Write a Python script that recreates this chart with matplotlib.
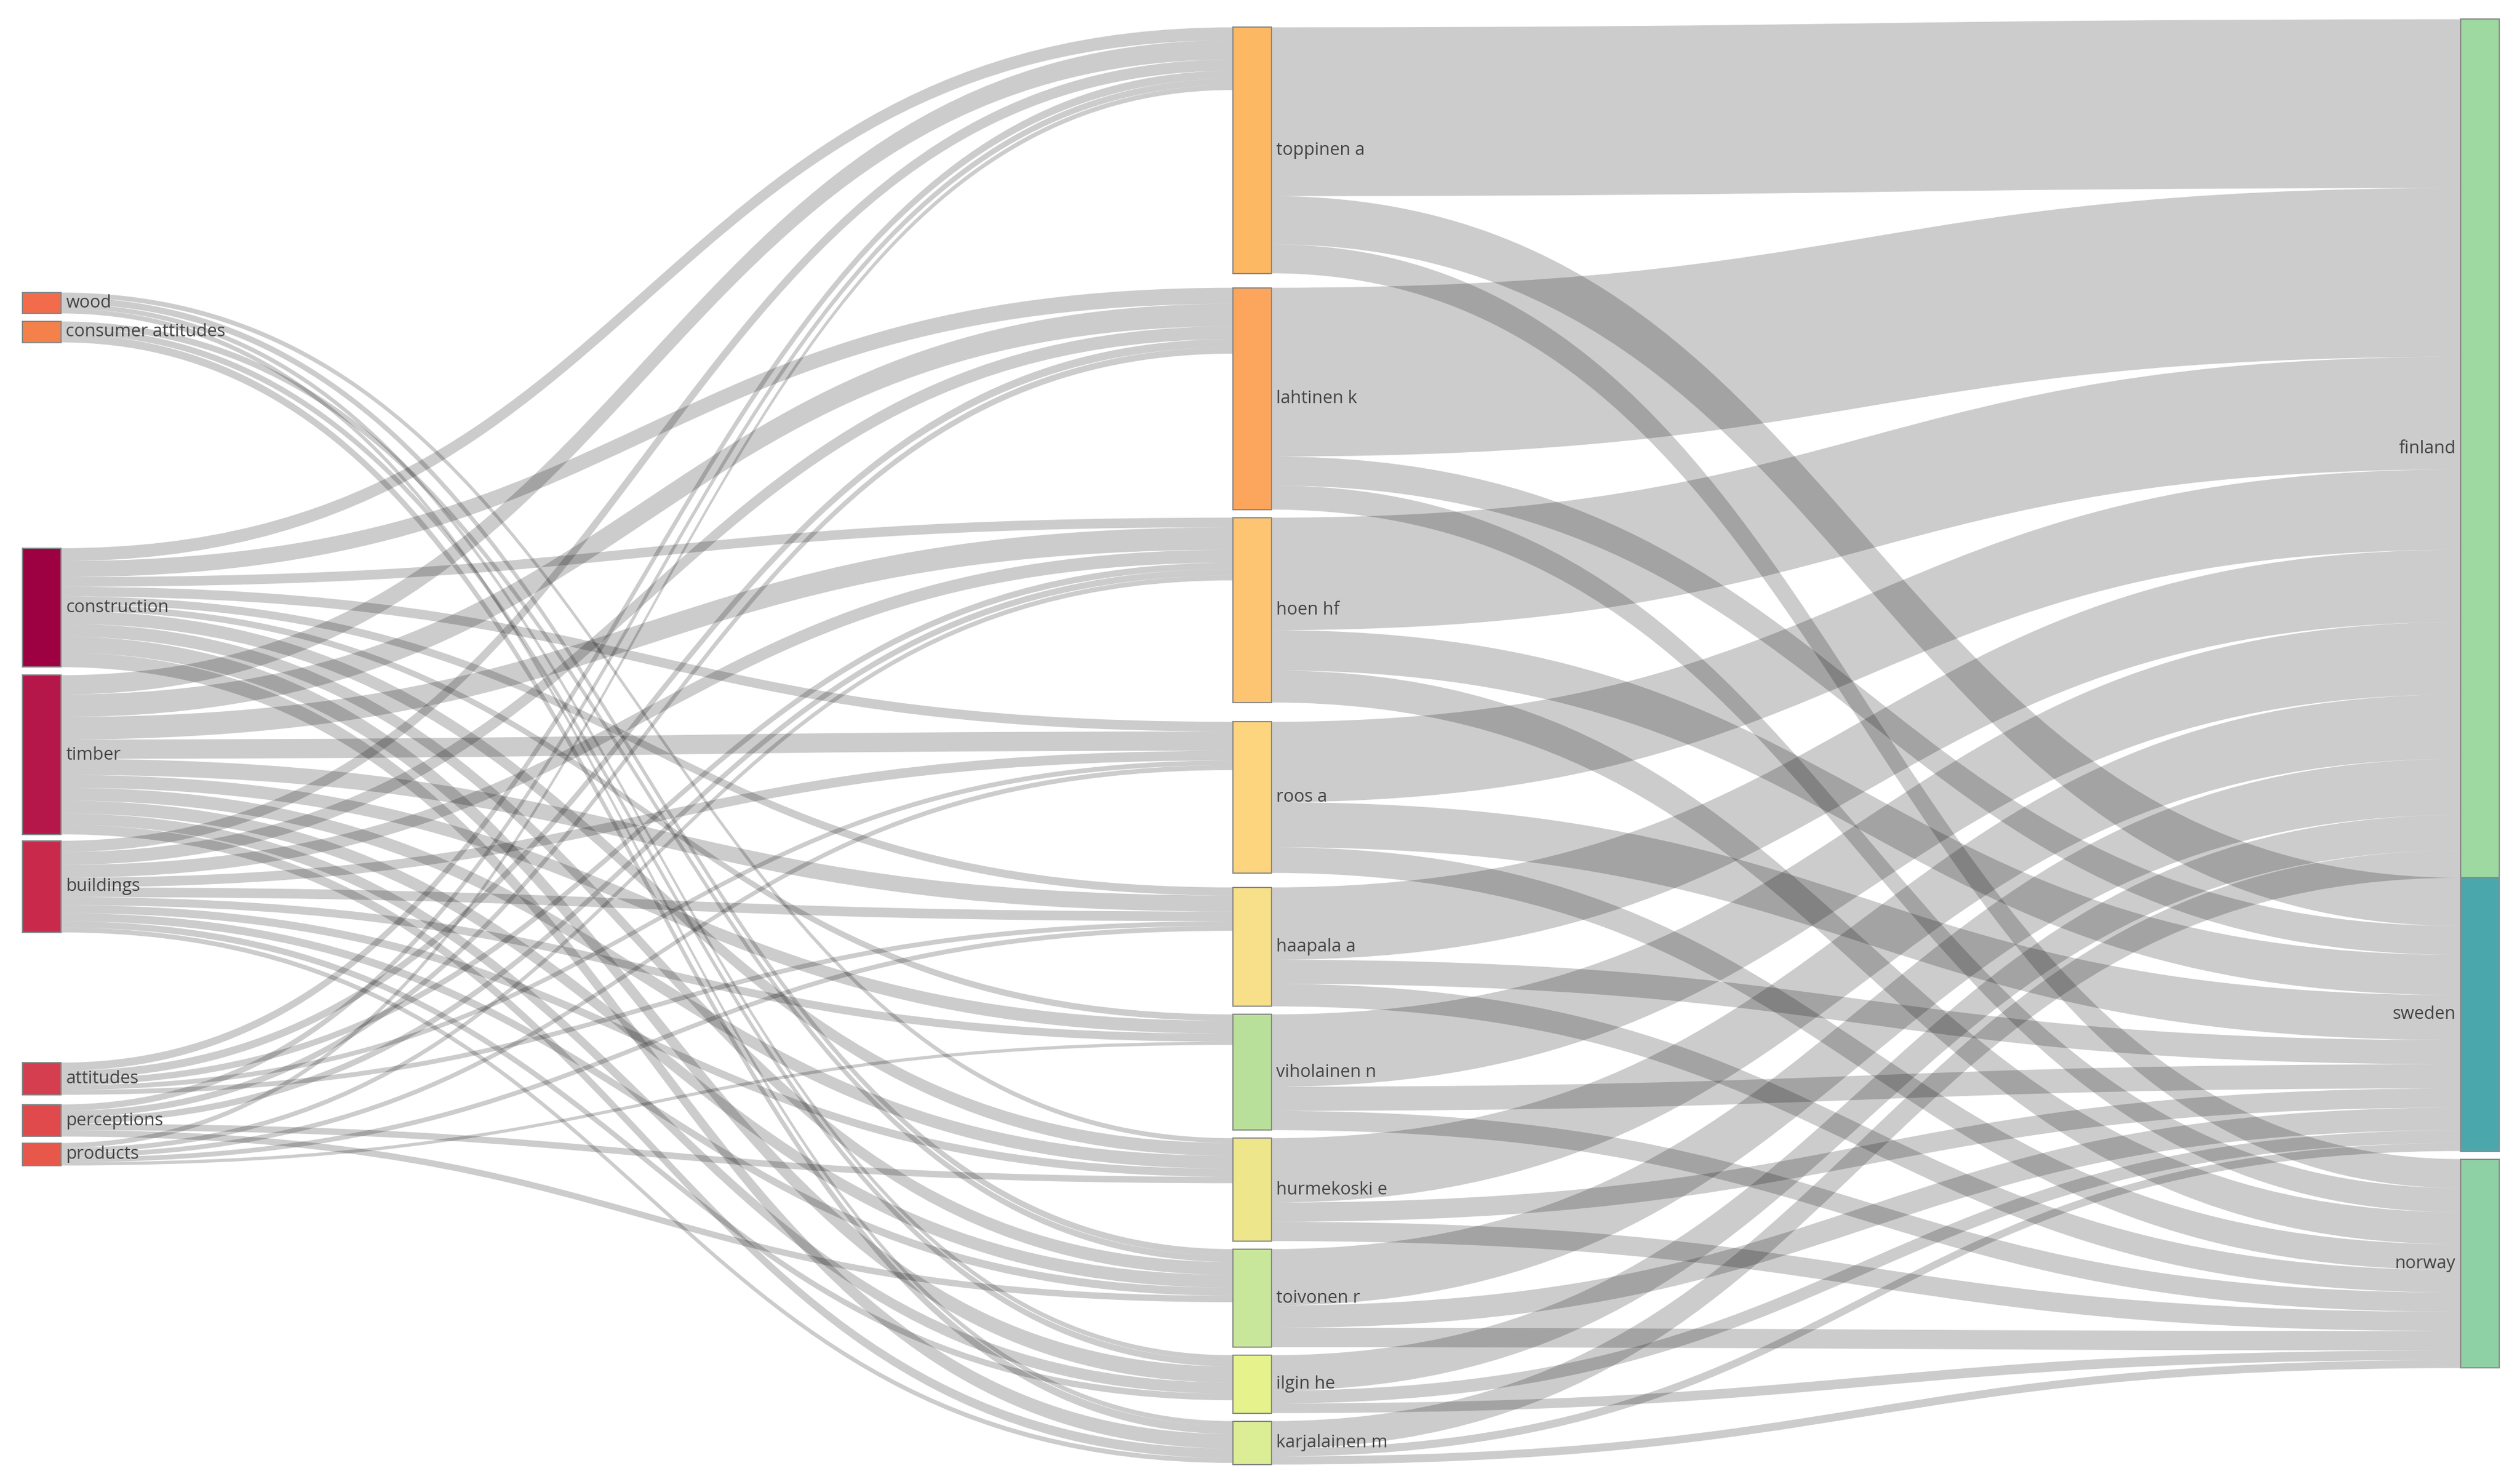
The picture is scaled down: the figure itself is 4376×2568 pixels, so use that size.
import matplotlib
matplotlib.use("Agg")
import matplotlib.pyplot as plt
from matplotlib.path import Path
from matplotlib.patches import PathPatch, Rectangle

plt.rcParams["font.family"] = ["Open Sans", "DejaVu Sans"]

# nodes per column
keywords = ["wood", "consumer attitudes", "construction", "timber", "buildings",
            "attitudes", "perceptions", "products"]
authors = ["toppinen a", "lahtinen k", "hoen hf", "roos a", "haapala a", "viholainen n",
           "hurmekoski e", "toivonen r", "ilgin he", "karjalainen m"]
countries = ["finland", "sweden", "norway"]

# keyword -> author link values
kw_links = {
    "construction": [8, 10, 6, 6, 5, 4, 8, 8, 10, 9],
    "timber": [12, 14, 14, 12, 10, 8, 8, 8, 7, 6],
    "buildings": [7, 8, 8, 6, 6, 5, 5, 5, 4, 3],
    "wood": [0, 0, 0, 0, 0, 0, 3, 4, 3, 3],
    "consumer attitudes": [0, 0, 0, 0, 0, 0, 0, 4, 4, 5],
    "attitudes": [5, 5, 4, 3, 3, 0, 0, 0, 0, 0],
    "perceptions": [4, 4, 4, 0, 0, 0, 4, 4, 0, 0],
    "products": [3, 0, 3, 3, 3, 2, 0, 0, 0, 0],
}
# author -> country link values (finland, sweden, norway)
au_links = {
    "toppinen a": [105, 30, 18],
    "lahtinen k": [105, 18, 15],
    "hoen hf": [70, 25, 20],
    "roos a": [50, 28, 16],
    "haapala a": [45, 15, 14],
    "viholainen n": [45, 15, 12],
    "hurmekoski e": [40, 12, 12],
    "toivonen r": [35, 14, 12],
    "ilgin he": [22, 8, 6],
    "karjalainen m": [17, 5, 5],
}

kw_colors = ["#f26b4a", "#f4804a", "#9e0142", "#b5174b", "#c92a4c", "#d53e4f", "#e04a4c", "#e8584a"]
au_colors = ["#fdb863", "#fca55d", "#fdc572", "#fdd57f", "#f8e08a", "#b8e09a",
             "#eee68a", "#c9e79a", "#e6f28c", "#dbee95"]
co_colors = ["#9dd9a0", "#4aa8ad", "#8ed1a4"]

# layout: column x and node tops (display units)
col_x = [14, 767, 1531]
node_w = 24
kw_top = [182, 200, 341, 420, 523, 661, 687, 711]
au_top = [17, 179, 322, 449, 552, 631, 708, 777, 843, 884]
co_top = [12, 546, 721]

links = []
for k, vals in kw_links.items():
    for a, v in zip(authors, vals):
        if v > 0:
            links.append((k, a, v))
for a, vals in au_links.items():
    for c, v in zip(countries, vals):
        links.append((a, c, v))

nodes = {}
for names, tops, col, colors in [(keywords, kw_top, 0, kw_colors),
                                 (authors, au_top, 1, au_colors),
                                 (countries, co_top, 2, co_colors)]:
    for n, t, c in zip(names, tops, colors):
        nodes[n] = dict(top=t, col=col, color=c)
for n in nodes:
    vin = sum(v for s, t, v in links if t == n)
    vout = sum(v for s, t, v in links if s == n)
    nodes[n]["h"] = max(vin, vout)

fig = plt.figure(figsize=(43.76, 25.68), dpi=100)
ax = fig.add_axes([0, 0, 1, 1])
ax.set_xlim(0, 1568)
ax.set_ylim(920, 0)
ax.axis("off")

out_off = {n: 0.0 for n in nodes}
in_off = {n: 0.0 for n in nodes}
src_sorted = sorted(links, key=lambda l: (nodes[l[0]]["top"], nodes[l[1]]["top"]))
out_pos = {}
for s, t, v in src_sorted:
    out_pos[(s, t)] = nodes[s]["top"] + out_off[s]
    out_off[s] += v
in_pos = {}
for s, t, v in sorted(links, key=lambda l: (nodes[l[1]]["top"], nodes[l[0]]["top"])):
    in_pos[(s, t)] = nodes[t]["top"] + in_off[t]
    in_off[t] += v

for s, t, v in links:
    x0 = col_x[nodes[s]["col"]] + node_w
    x1 = col_x[nodes[t]["col"]]
    y0 = out_pos[(s, t)]
    y1 = in_pos[(s, t)]
    xm = (x0 + x1) / 2
    verts = [(x0, y0), (xm, y0), (xm, y1), (x1, y1),
             (x1, y1 + v), (xm, y1 + v), (xm, y0 + v), (x0, y0 + v), (x0, y0)]
    codes = [Path.MOVETO, Path.CURVE4, Path.CURVE4, Path.CURVE4,
             Path.LINETO, Path.CURVE4, Path.CURVE4, Path.CURVE4, Path.CLOSEPOLY]
    ax.add_patch(PathPatch(Path(verts, codes), facecolor=(0, 0, 0, 0.2), edgecolor="none"))

for n, d in nodes.items():
    x = col_x[d["col"]]
    ax.add_patch(Rectangle((x, d["top"]), node_w, d["h"], facecolor=d["color"],
                           edgecolor="#888888", lw=1.5))
    yc = d["top"] + d["h"] / 2
    if d["col"] == 2:
        ax.text(x - 3, yc, n, ha="right", va="center", fontsize=22, color="#444444")
    else:
        ax.text(x + node_w + 3, yc, n, ha="left", va="center", fontsize=22, color="#444444")

fig.savefig("out.png", dpi=100, facecolor="white")
